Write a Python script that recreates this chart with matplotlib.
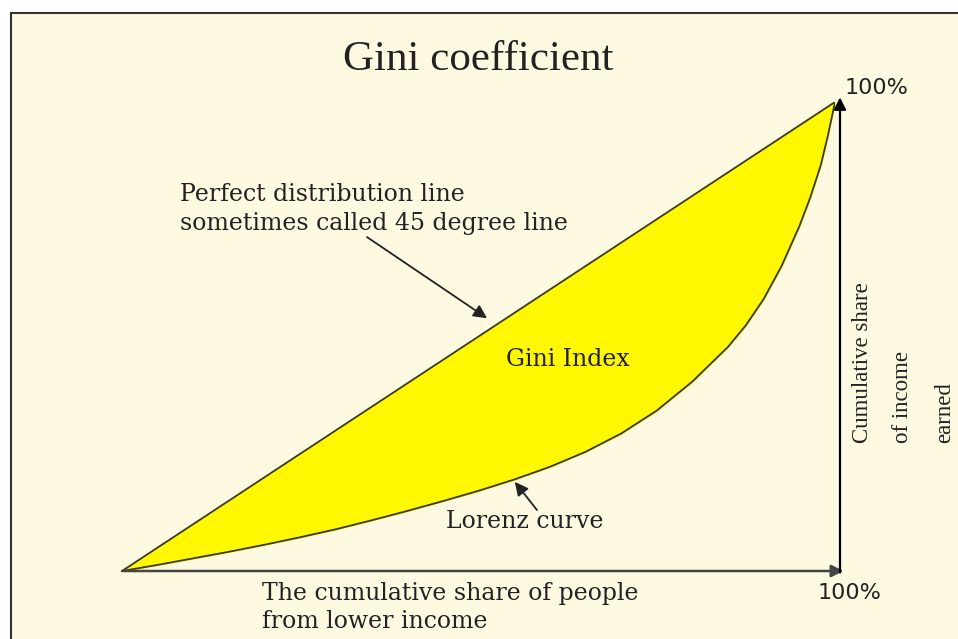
import matplotlib.pyplot as plt
from matplotlib.patches import Rectangle

# cumulative share of people (x) and of income (y)
population = [0.0, 0.05, 0.10, 0.15, 0.20, 0.25, 0.30, 0.35, 0.40, 0.45,
              0.50, 0.55, 0.60, 0.65, 0.70, 0.75, 0.80, 0.85, 0.875, 0.90,
              0.925, 0.95, 0.965, 0.98, 0.99, 1.0]
income = [0.0, 0.013, 0.027, 0.041, 0.056, 0.072, 0.089, 0.108, 0.128, 0.149,
          0.171, 0.195, 0.222, 0.254, 0.293, 0.342, 0.404, 0.478, 0.524, 0.580,
          0.650, 0.735, 0.795, 0.865, 0.928, 1.0]
equality = [0.0, 1.0]

title = "Gini coefficient"
x_label = "The cumulative share of people\nfrom lower income"
y_label_lines = ["Cumulative share", "of income", "earned"]

cream = "#FEF9E1"
yellow = "#FFF800"
ink = "#222222"

fig = plt.figure(figsize=(9.58, 6.39), dpi=100)
fig.patch.set_facecolor("white")

# cream panel with a thin frame on the top and left
fig.patches.append(Rectangle((11 / 958, -0.05), 1.2, 1.05 - 13 / 639,
                             transform=fig.transFigure, facecolor=cream,
                             edgecolor="#333333", linewidth=1.5, zorder=-1))

ax = fig.add_axes([122 / 958, 68 / 639, 713 / 958, 469 / 639])
ax.set_xlim(0, 1)
ax.set_ylim(0, 1)
ax.axis("off")

# area between the equality line and the Lorenz curve
ax.fill_between(population, income, population, color=yellow, zorder=1)
ax.plot(equality, equality, color="#3b3b22", lw=1.3, zorder=2)
ax.plot(population, income, color="#3b3b22", lw=1.3, zorder=2,
        solid_joinstyle="round")

# axes drawn as arrows
ax.annotate("", xy=(1.012, 0), xytext=(0, 0), annotation_clip=False,
            arrowprops=dict(arrowstyle="-|>", color="#444444", lw=1.8,
                            mutation_scale=18, shrinkA=0, shrinkB=0))
ax.annotate("", xy=(1.007, 1.01), xytext=(1.007, -0.003), annotation_clip=False,
            arrowprops=dict(arrowstyle="-|>", color="black", lw=1.6,
                            mutation_scale=18, shrinkA=0, shrinkB=0))

fig.text(478 / 958, 1 - 60 / 639, title, family="Liberation Serif",
         fontsize=31, color=ink, ha="center", va="center")

ax.text(1.014, 1.03, "100%", family="DejaVu Sans", fontsize=16, color=ink,
        ha="left", va="center", clip_on=False)
ax.text(0.976, -0.047, "100%", family="DejaVu Sans", fontsize=16, color=ink,
        ha="left", va="center", clip_on=False)

ax.text(0.196, -0.078, x_label, family="DejaVu Serif", fontsize=17,
        color=ink, ha="left", va="center", linespacing=1.3, clip_on=False)

for xpos, line in zip([1.038, 1.095, 1.154], y_label_lines):
    ax.text(xpos, 0.273, line, family="Liberation Serif", fontsize=16.5,
            color=ink, rotation=90, ha="center", va="bottom", clip_on=False)

ax.annotate("Perfect distribution line\nsometimes called 45 degree line",
            xy=(0.512, 0.539), xytext=(0.0813, 0.772),
            family="DejaVu Serif", fontsize=17, color=ink,
            ha="left", va="center", linespacing=1.3)
ax.annotate("", xy=(0.512, 0.539), xytext=(0.3436, 0.712),
            arrowprops=dict(arrowstyle="-|>", color=ink, lw=1.3,
                            mutation_scale=20, shrinkA=0, shrinkB=0))

ax.text(0.6255, 0.45, "Gini Index", family="DejaVu Serif", fontsize=17,
        color=ink, ha="center", va="center", zorder=3)

ax.text(0.565, 0.1045, "Lorenz curve", family="DejaVu Serif", fontsize=17,
        color=ink, ha="center", va="center")
ax.annotate("", xy=(0.551, 0.19), xytext=(0.582, 0.130),
            arrowprops=dict(arrowstyle="-|>", color=ink, lw=1.3,
                            mutation_scale=20, shrinkA=0, shrinkB=0))

fig.savefig("out.png", dpi=100, facecolor=fig.get_facecolor())
